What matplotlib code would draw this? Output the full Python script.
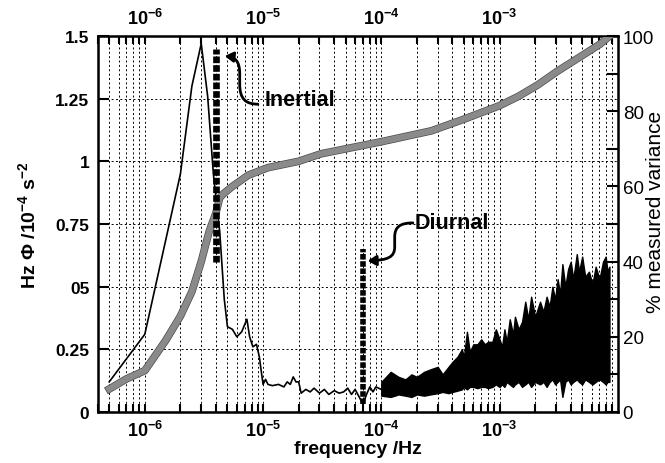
import matplotlib
matplotlib.use("Agg")
import matplotlib.pyplot as plt
import numpy as np
from matplotlib.path import Path
from matplotlib.patches import FancyArrowPatch
import matplotlib.patheffects as pe

plt.rcParams['font.family'] = ['Liberation Sans', 'DejaVu Sans']
plt.rcParams['mathtext.fontset'] = 'custom'
plt.rcParams['mathtext.rm'] = 'Liberation Sans:bold'
plt.rcParams['mathtext.it'] = 'Liberation Sans:bold'
plt.rcParams['mathtext.bf'] = 'Liberation Sans:bold'

# spectrum (frequency * PSD), low-frequency part drawn as a line
spec_f = [5e-7, 1e-6, 2e-6, 2.5e-6, 3e-6, 3.4e-6, 3.8e-6, 4.3e-6, 4.7e-6, 5e-6, 5.5e-6,
          6e-6, 6.6e-6, 7.3e-6, 7.7e-6, 8.2e-6, 8.8e-6, 9.3e-6, 1e-5, 1.05e-5, 1.1e-5,
          1.2e-5, 1.35e-5, 1.5e-5, 1.6e-5, 1.7e-5, 1.8e-5, 1.9e-5, 2e-5, 2.1e-5, 2.3e-5,
          2.5e-5, 2.7e-5, 3e-5, 3.3e-5, 3.6e-5, 4e-5, 4.4e-5, 4.8e-5, 5.2e-5, 5.6e-5,
          6e-5, 6.5e-5, 7e-5, 7.5e-5, 8e-5, 8.5e-5, 9e-5, 1e-4]
spec_v = [0.12, 0.31, 0.95, 1.30, 1.47, 1.26, 0.95, 0.72, 0.45, 0.34, 0.33,
          0.30, 0.32, 0.37, 0.30, 0.26, 0.27, 0.22, 0.11, 0.13, 0.11,
          0.105, 0.11, 0.10, 0.12, 0.11, 0.14, 0.12, 0.12, 0.075, 0.09,
          0.08, 0.095, 0.075, 0.09, 0.07, 0.085, 0.075, 0.08, 0.095, 0.07,
          0.09, 0.06, 0.03, 0.07, 0.10, 0.08, 0.10, 0.09]

# high-frequency noisy part: lower / upper envelope of the trace
band_f = [1.0e-4, 1.2e-4, 1.4e-4, 1.6e-4, 1.8e-4, 2.0e-4, 2.3e-4, 2.6e-4, 3.0e-4, 3.3e-4,
          3.7e-4, 4.0e-4, 4.4e-4, 4.8e-4, 5.0e-4, 5.3e-4, 5.6e-4, 6.0e-4, 6.5e-4, 7.0e-4,
          7.5e-4, 8.0e-4, 8.7e-4, 9.3e-4,
          1.0e-3, 1.05e-3, 1.1e-3, 1.15e-3, 1.22e-3, 1.3e-3, 1.35e-3, 1.45e-3, 1.55e-3,
          1.65e-3, 1.75e-3, 1.85e-3, 2.0e-3, 2.2e-3, 2.35e-3, 2.5e-3, 2.65e-3, 2.8e-3,
          2.95e-3, 3.1e-3, 3.25e-3, 3.4e-3, 3.6e-3, 3.8e-3, 4.0e-3, 4.2e-3, 4.5e-3,
          4.7e-3, 5.0e-3, 5.3e-3, 5.7e-3, 6.1e-3, 6.5e-3, 7.0e-3, 7.5e-3, 7.9e-3,
          8.2e-3, 8.5e-3]
band_hi = [0.12, 0.16, 0.14, 0.13, 0.15, 0.14, 0.16, 0.17, 0.18, 0.15,
           0.18, 0.20, 0.22, 0.25, 0.22, 0.32, 0.24, 0.27, 0.27, 0.29,
           0.27, 0.28, 0.28, 0.33,
           0.29, 0.26, 0.33, 0.28, 0.37, 0.31, 0.38, 0.33, 0.36,
           0.44, 0.37, 0.46, 0.38, 0.44, 0.40, 0.46, 0.42, 0.50,
           0.45, 0.53, 0.47, 0.59, 0.50, 0.57, 0.60, 0.53, 0.63,
           0.56, 0.62, 0.54, 0.56, 0.51, 0.58, 0.53, 0.60, 0.62,
           0.56, 0.58]
band_lo = [0.065, 0.06, 0.07, 0.065, 0.06, 0.07, 0.065, 0.07, 0.075, 0.08,
           0.075, 0.08, 0.085, 0.09, 0.10, 0.09, 0.10, 0.10, 0.095, 0.10,
           0.10, 0.095, 0.10, 0.11,
           0.10, 0.11, 0.10, 0.12, 0.11, 0.10, 0.11, 0.12, 0.10,
           0.11, 0.12, 0.10, 0.12, 0.11, 0.12, 0.10, 0.12, 0.13,
           0.11, 0.12, 0.13, 0.06, 0.12, 0.13, 0.11, 0.12, 0.13,
           0.12, 0.11, 0.13, 0.12, 0.11, 0.12, 0.13, 0.12, 0.11,
           0.12, 0.12]

# cumulative measured variance (%)
var_f = [5e-7, 7e-7, 1e-6, 1.5e-6, 2e-6, 2.5e-6, 3e-6, 3.5e-6, 4e-6, 4.3e-6, 4.6e-6,
         5.5e-6, 7.5e-6, 1.1e-5, 2e-5, 3.1e-5, 1e-4, 2.65e-4, 5e-4, 1e-3, 1.45e-3,
         2.1e-3, 3.1e-3, 4.7e-3, 7.1e-3, 8.5e-3]
var_pct = [6.1, 8.8, 11, 19, 25.5, 32, 40, 48, 53, 57, 58,
           60, 63, 65, 66.7, 68.7, 71.9, 74.8, 77.9, 81.5, 84,
           87, 90.7, 94.3, 97.9, 100]

# marked periods: inertial and diurnal
inertial_f, inertial_y = 4e-6, (0.60, 1.45)
diurnal_f, diurnal_y = 7e-5, (0.03, 0.65)

left_ticks = [0, 0.25, 0.5, 0.75, 1, 1.25, 1.5]
left_labels = ['0', '0.25', '05', '0.75', '1', '1.25', '1.5']
dec_ticks = [1e-6, 1e-5, 1e-4, 1e-3]
dec_labels = ['$10^{-6}$', '$10^{-5}$', '$10^{-4}$', '$10^{-3}$']

fig = plt.figure(figsize=(6.65, 4.64), dpi=100)
ax = fig.add_axes([0.147, 0.110, 0.782, 0.810])
ax.set_xscale('log')
ax.set_xlim(4e-7, 1e-2)
ax.set_ylim(0, 1.5)

ax.grid(True, which='both', axis='x', color='k', lw=0.7, ls=(0, (2, 2.5)))
ax.grid(True, which='major', axis='y', color='k', lw=0.7, ls=(0, (2, 2.5)))

ax.plot(spec_f, spec_v, color='k', lw=1.2, zorder=3)
ax.fill_between(band_f, band_lo, band_hi, color='k', lw=1.0, edgecolor='k', zorder=3)

ax.set_yticks(left_ticks)
ax.set_yticklabels(left_labels, fontweight='bold', fontsize=12.5)
ax.set_xticks(dec_ticks)
ax.set_xticklabels(dec_labels, fontsize=13)
ax.tick_params(which='both', direction='in', top=True, labeltop=True, width=1.5)
ax.tick_params(axis='x', which='major', length=6, pad=6)
ax.tick_params(axis='x', which='minor', length=6)
ax.tick_params(axis='y', length=8, pad=6)
for s in ax.spines.values():
    s.set_linewidth(1.8)

ax.set_xlabel('frequency /Hz', fontweight='bold', fontsize=14, labelpad=0)
ax.set_ylabel('Hz Φ /$10^{-4}$ s$^{-2}$', fontweight='bold', fontsize=14, labelpad=12)

ax2 = ax.twinx()
ax2.set_ylim(0, 100)
ax2.plot(var_f, var_pct, color='#8a8a8a', lw=4.5, zorder=2,
         path_effects=[pe.Stroke(linewidth=5.5, foreground='#4a4a4a'), pe.Normal()])
ax2.set_yticks([0, 20, 40, 60, 80, 100])
ax2.set_yticks([10, 30, 50, 70, 90], minor=True)
ax2.tick_params(axis='y', which='both', direction='in', length=8, width=1.5, labelsize=13.5)
ax2.set_ylabel('% measured variance', fontsize=15, ha='center', va='center')
ax2.yaxis.set_label_coords(1.072, 0.535)

# dashed markers
ax2.plot([inertial_f, inertial_f], inertial_y, transform=ax.transData,
         color='k', lw=4.8, ls=(0, (1.0, 0.3)), solid_capstyle='butt', zorder=4)
ax2.plot([diurnal_f, diurnal_f], diurnal_y, transform=ax.transData,
         color='k', lw=4.0, ls=(0, (1.0, 0.3)), solid_capstyle='butt', zorder=4)

ax2.text(0.321, 0.832, 'Inertial', transform=ax2.transAxes, fontsize=15.5,
         fontweight='bold', va='center', ha='left')
ax2.text(0.610, 0.505, 'Diurnal', transform=ax2.transAxes, fontsize=15.5,
         fontweight='bold', va='center', ha='left')

C = Path.CURVE4
arr1 = Path([(0.308, 0.819), (0.285, 0.819), (0.273, 0.832), (0.273, 0.872),
             (0.273, 0.899), (0.273, 0.934), (0.264, 0.944), (0.244, 0.947)],
            [Path.MOVETO, C, C, C, Path.LINETO, C, C, C])
arr2 = Path([(0.606, 0.503), (0.581, 0.503), (0.571, 0.492), (0.571, 0.465),
             (0.571, 0.439), (0.571, 0.412), (0.558, 0.404), (0.519, 0.402)],
            [Path.MOVETO, C, C, C, Path.LINETO, C, C, C])
for p in (arr1, arr2):
    ax2.add_patch(FancyArrowPatch(path=p, transform=ax2.transAxes,
                                  arrowstyle='-|>,head_length=5,head_width=3',
                                  color='k', lw=2.0, zorder=5))

fig.savefig('out.png', dpi=100)
